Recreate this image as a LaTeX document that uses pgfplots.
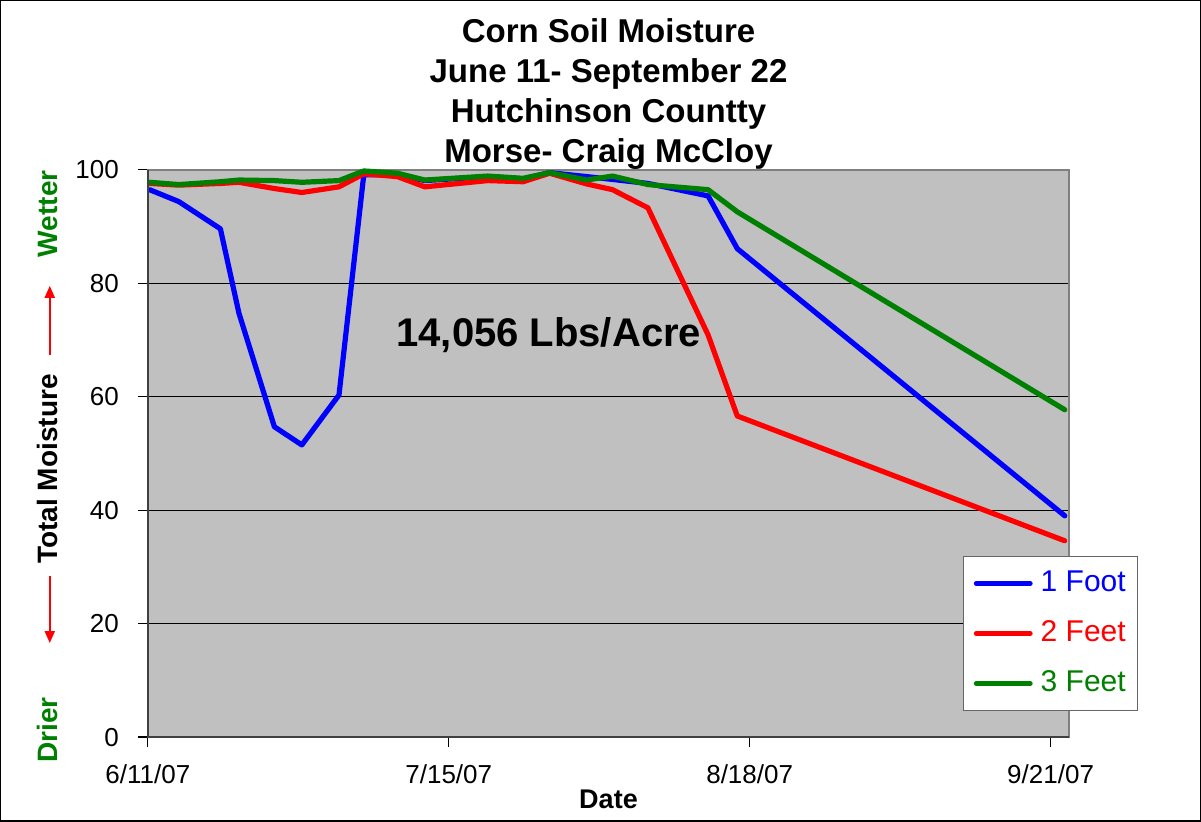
\documentclass[border=0pt]{standalone}
\usepackage{fontspec}
\setmainfont{Liberation Sans}
\usepackage{pgfplots}
\pgfplotsset{compat=1.18}
\usetikzlibrary{arrows.meta}

\definecolor{xlblue}{HTML}{0000FF}
\definecolor{xlred}{HTML}{FF0000}
\definecolor{xlgreen}{HTML}{008000}
\definecolor{plotgray}{HTML}{C0C0C0}
\definecolor{bordergray}{HTML}{808080}

% days after 6/11/07
\pgfplotstableread{
day   foot1 feet2 feet3
0.2   96.5  97.6  97.8
3.5   94.4  97.3  97.4
8.2   89.6  97.6  97.9
10.3  74.7  97.8  98.2
14.3  54.7  96.7  98.1
17.4  51.5  96.0  97.8
21.6  60.3  97.0  98.1
24.4  99.1  99.3  99.8
28.2  99.2  98.8  99.4
31.3  98.1  97.0  98.2
38.4  98.8  98.1  98.9
42.4  98.4  97.9  98.5
45.4  99.5  99.4  99.5
49.6  98.8  97.5  98.2
52.5  98.3  96.5  98.9
56.5  97.6  93.3  97.4
63.3  95.4  70.9  96.5
66.6  86.1  56.6  92.6
103.6 39.0  34.6  57.7
}\moisture

\begin{document}
\begin{tikzpicture}
\begin{axis}[
  scale only axis,
  width=460.5bp, height=283.5bp,
  xmin=0, xmax=104.1, ymin=0, ymax=100,
  clip=false,
  axis background/.style={fill=plotgray},
  axis line style={draw=bordergray, line width=1bp},
  xtick={0,34,68,102},
  xticklabels={6/11/07,7/15/07,8/18/07,9/21/07},
  ytick={0,20,40,60,80,100},
  ymajorgrids,
  grid style={black, line width=0.5bp},
  tick align=outside, xtick pos=left, ytick pos=left,
  major tick length=5bp,
  tick style={black, line width=0.6bp},
  /pgf/number format/assume math mode=true,
  tick label style={font=\fontsize{13bp}{15bp}\selectfont},
  yticklabel style={xshift=-6bp},
  xticklabel style={yshift=-5.5bp},
  xlabel={Date},
  xlabel style={font=\bfseries\fontsize{13.5bp}{15bp}\selectfont, at={(axis description cs:0.5,0)}, anchor=base, yshift=-35.5bp},
  legend style={at={(axis description cs:0.885,0.0459)}, anchor=south west,
    draw=black!60, fill=white, line width=0.6bp,
    font=\fontsize{15bp}{17bp}\selectfont,
    inner xsep=5bp, inner ysep=6bp, row sep=10bp,
    nodes={inner sep=1bp, text height=10.5bp, text depth=2.5bp}},
  legend cell align=left,
  legend image code/.code={\draw[#1, line width=2.4bp, line cap=round] (2bp,0bp) -- (29bp,0bp);},
  every axis plot/.append style={line width=2.6bp, line join=round, line cap=round},
]
\addplot[xlblue] table[x=day, y=foot1] {\moisture};
\addlegendentry{\hspace{3bp}\textcolor{xlblue}{1 Foot}}
\addplot[xlred] table[x=day, y=feet2] {\moisture};
\addlegendentry{\hspace{3bp}\textcolor{xlred}{2 Feet}}
\addplot[xlgreen] table[x=day, y=feet3] {\moisture};
\addlegendentry{\hspace{3bp}\textcolor{xlgreen}{3 Feet}}

\draw[black!75, line width=1.2bp] (axis description cs:0,1) -- (axis description cs:0,0) -- (axis description cs:1,0);
\node[anchor=base, font=\bfseries\fontsize{20bp}{22bp}\selectfont] at (axis cs:45.3,68.8) {14,056 Lbs/Acre};
\end{axis}

% titles
\begin{scope}[every node/.style={anchor=base, font=\bfseries\fontsize{16.5bp}{18bp}\selectfont}]
\node at (230.25bp,347bp) {Corn Soil Moisture};
\node at (230.25bp,327bp) {June 11- September 22};
\node at (230.25bp,307bp) {Hutchinson Countty};
\node at (230.25bp,287bp) {Morse- Craig McCloy};
\end{scope}

% y axis label with arrows
\begin{scope}[every node/.style={rotate=90, font=\bfseries\fontsize{14bp}{16bp}\selectfont}]
\node[text=xlgreen] at (-50bp,261.5bp) {Wetter};
\node at (-50bp,134bp) {Total Moisture};
\node[text=xlgreen] at (-50bp,3.5bp) {Drier};
\end{scope}
\draw[xlred, line width=1bp, -{Triangle[length=6bp,width=5bp]}] (-49bp,191bp) -- (-49bp,225.5bp);
\draw[xlred, line width=1bp, -{Triangle[length=6bp,width=5bp]}] (-49bp,80.5bp) -- (-49bp,47bp);

% outer frame
\draw[black, line width=0.75bp] (-73.5bp,-42bp) rectangle (526bp,368bp);
\end{tikzpicture}
\end{document}
